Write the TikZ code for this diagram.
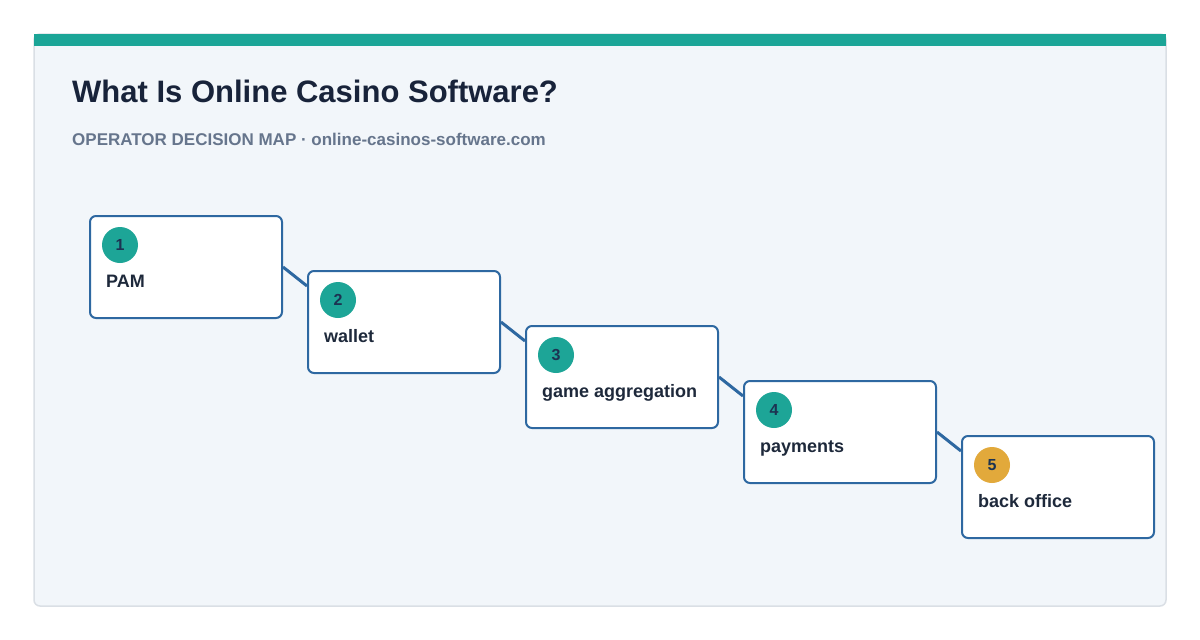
\documentclass[tikz,border=0pt]{standalone}
\usepackage{fontspec}
\setmainfont{Liberation Sans}
\usepackage{xcolor}

\definecolor{barteal}{HTML}{1BA597}
\definecolor{badgeteal}{HTML}{1DA597}
\definecolor{badgegold}{HTML}{E2A93B}
\definecolor{boxblue}{HTML}{2E68A1}
\definecolor{panelfill}{HTML}{F2F6FA}
\definecolor{panelline}{HTML}{DADFE5}
\definecolor{titledark}{HTML}{18233A}
\definecolor{subgray}{HTML}{66758C}
\definecolor{labeldark}{HTML}{1E293B}
\definecolor{numnavy}{HTML}{1C3352}

\begin{document}
\begin{tikzpicture}[
    x=1pt, y=-1pt,
    font=\bfseries,
    stepbox/.style={draw=boxblue, line width=2pt, fill=white, rounded corners=6pt,
        minimum width=192pt, minimum height=102pt, anchor=north west, inner sep=0pt},
    badge/.style={circle, fill=#1, minimum size=36pt, inner sep=0pt, text=numnavy,
        font=\fontsize{16}{19}\selectfont\bfseries},
    badge/.default=badgeteal,
    lbl/.style={anchor=base west, inner sep=0pt, text=labeldark,
        font=\fontsize{18}{21}\selectfont\bfseries},
    link/.style={draw=boxblue, line width=3pt}
]

    % Canvas and panel
    \useasboundingbox[fill=white] (0,0) rectangle (1200,640);
    \draw[fill=panelfill, draw=panelline, line width=1.5pt, rounded corners=6pt] (34,34) rectangle (1166,606);
    \fill[barteal] (34,34) rectangle (1166,46);

    % Heading
    \node[anchor=base west, inner sep=0pt, text=titledark, font=\fontsize{31}{36}\selectfont\bfseries] (title) at (72,102) {What Is Online Casino Software?};
    \node[anchor=base west, inner sep=0pt, text=subgray, font=\fontsize{17}{20}\selectfont\bfseries] (subtitle) at (72,145) {OPERATOR DECISION MAP · online-casinos-software.com};

    % Step boxes
    \node[stepbox] (b1) at (89,215) {};
    \node[stepbox] (b2) at (307,270) {};
    \node[stepbox] (b3) at (525,325) {};
    \node[stepbox] (b4) at (743,380) {};
    \node[stepbox] (b5) at (961,435) {};

    % Links between steps
    \draw[link] (b1.east) -- ([yshift=-16pt]b2.north west);
    \draw[link] (b2.east) -- ([yshift=-16pt]b3.north west);
    \draw[link] (b3.east) -- ([yshift=-16pt]b4.north west);
    \draw[link] (b4.east) -- ([yshift=-16pt]b5.north west);

    % Badges
    \node[badge] (n1) at ([xshift=31pt,yshift=-30pt]b1.north west) {1};
    \node[badge] (n2) at ([xshift=31pt,yshift=-30pt]b2.north west) {2};
    \node[badge] (n3) at ([xshift=31pt,yshift=-30pt]b3.north west) {3};
    \node[badge] (n4) at ([xshift=31pt,yshift=-30pt]b4.north west) {4};
    \node[badge=badgegold] (n5) at ([xshift=31pt,yshift=-30pt]b5.north west) {5};

    % Labels
    \node[lbl] (l1) at ([xshift=17pt,yshift=-72pt]b1.north west) {PAM};
    \node[lbl] (l2) at ([xshift=17pt,yshift=-72pt]b2.north west) {wallet};
    \node[lbl] (l3) at ([xshift=17pt,yshift=-72pt]b3.north west) {game aggregation};
    \node[lbl] (l4) at ([xshift=17pt,yshift=-72pt]b4.north west) {payments};
    \node[lbl] (l5) at ([xshift=17pt,yshift=-72pt]b5.north west) {back office};

\end{tikzpicture}
\end{document}
